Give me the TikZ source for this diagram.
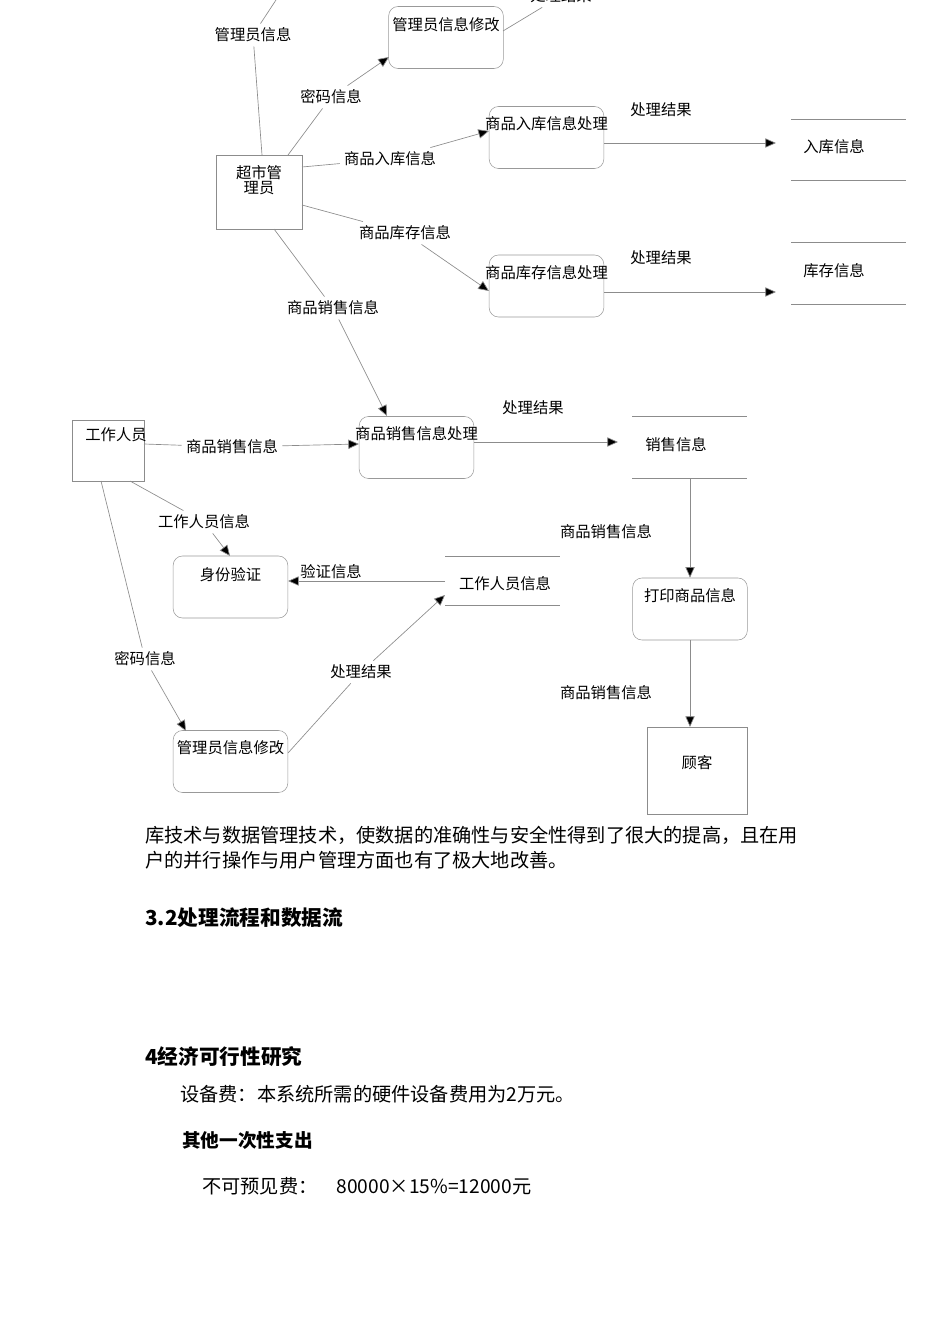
\documentclass[tikz,border=0pt]{standalone}
\usepackage{fontspec}
\setmainfont{Noto Sans CJK SC}
\usetikzlibrary{arrows.meta}
\begin{document}
\begin{tikzpicture}[x=0.75pt,y=-0.75pt,
  ln/.style={draw=black!45,line width=0.5pt},
  ar/.style={ln,-{Triangle[length=8pt,width=7pt,fill=black]}},
  proc/.style={draw=black!40,rounded corners=7pt,minimum width=86pt,minimum height=46.5pt,inner sep=0},
  ent/.style={draw=black!45,inner sep=0},
  lbl/.style={font=\fontsize{11.5}{13}\selectfont,inner sep=3pt},
  body/.style={font=\fontsize{14.4}{16}\selectfont,anchor=west,inner sep=0},
  head/.style={font=\fontsize{15.5}{17}\selectfont\bfseries,anchor=west,inner sep=0}]
\useasboundingbox (0,0) rectangle (950,1344);
% entities
\node[ent,minimum width=64.5pt,minimum height=55.5pt] (adm) at (259,192) {};
\node[lbl,align=center] (admt) at (259,180) {超市管\\[-2pt]理员};
\node[ent,minimum width=54pt,minimum height=45.75pt] (wk) at (108,450.5) {};
\node[lbl] (wkt) at (116,435) {工作人员};
\node[ent,minimum width=75pt,minimum height=65.25pt] (cu) at (697,770.5) {};
\node[lbl] (cut) at (697,763) {顾客};
% processes
\node[proc] (pm1) at (446,37.5) {}; \node[lbl] (pm1t) at (446,25) {管理员信息修改};
\node[proc] (pin) at (546.5,137.5) {}; \node[lbl] (pint) at (546.5,124) {商品入库信息处理};
\node[proc] (pst) at (546.5,286) {}; \node[lbl] (pstt) at (546.5,273) {商品库存信息处理};
\node[proc] (psa) at (416.5,447.5) {}; \node[lbl] (psat) at (416.5,434) {商品销售信息处理};
\node[proc] (pid) at (230.5,587) {}; \node[lbl] (pidt) at (230.5,575) {身份验证};
\node[proc] (pm2) at (230.5,761.5) {}; \node[lbl] (pm2t) at (230.5,748) {管理员信息修改};
\node[proc] (ppr) at (690,609) {}; \node[lbl] (pprt) at (690,596) {打印商品信息};
% stores
\foreach \n/\xa/\ya/\yb in {sin/791/119/180, sst/791/242/304, ssa/632/416/478, swk/445/556/605}{
  \draw[ln] (\xa,\ya) -- ++(115,0) (\xa,\yb) -- ++(115,0);
  \coordinate (\n) at (\xa+57,{(\ya+\yb)/2});
}
\node[lbl] (sint) at (834,147) {入库信息};
\node[lbl] (sstt) at (834,271) {库存信息};
\node[lbl] (ssat) at (676,445) {销售信息};
\node[lbl] (swkt) at (505,584) {工作人员信息};
% labels
\node[lbl] (l1) at (253,35) {管理员信息};
\node[lbl] (l2) at (331,97) {密码信息};
\node[lbl] (l3) at (390,159) {商品入库信息};
\node[lbl] (l4) at (405,233) {商品库存信息};
\node[lbl] (l5) at (333,308) {商品销售信息};
\node[lbl] (l6) at (661,110) {处理结果};
\node[lbl] (l7) at (661,258) {处理结果};
\node[lbl] (l8) at (533,408) {处理结果};
\node[lbl] (l9) at (232,447) {商品销售信息};
\node[lbl] (l10) at (204,522) {工作人员信息};
\node[lbl] (l11) at (331,572) {验证信息};
\node[lbl] (l12) at (361,672) {处理结果};
\node[lbl] (l13) at (145,659) {密码信息};
\node[lbl] (l14) at (606,532) {商品销售信息};
\node[lbl] (l15) at (606,693) {商品销售信息};
\node[lbl] (l16) at (561,-4) {处理结果};
% connectors
\coordinate (topend) at (276,0);
\draw[ln] (262,155) -- (l1);
\draw[ln] (l1) -- (topend);
\draw[ln] (288,155) -- (l2);
\draw[ar] (l2) -- (389,57);
\draw[ln] (503,31) -- (l16);
\draw[ln] (302,167) -- (l3);
\draw[ar] (l3) -- (489,131);
\draw[ln] (302,205) -- (l4);
\draw[ar] (l4) -- (489,291);
\draw[ln] (274,229) -- (l5);
\draw[ar] (l5) -- (387,416);
\coordinate (a1) at (776,143); \draw[ar] (604,143) -- (a1);
\coordinate (a2) at (776,292); \draw[ar] (604,292) -- (a2);
\coordinate (a3) at (618,442); \draw[ar] (474,442) -- (a3);
\draw[ln] (144,444) -- (l9);
\draw[ar] (l9) -- (359,444);
\draw[ln] (130,481) -- (l10);
\draw[ar] (l10) -- (230,556);
\draw[ar] (445,581) -- (288,581);
\draw[ln] (288,753) -- (l12);
\draw[ar] (l12) -- (445,595);
\draw[ln] (101,481) -- (l13);
\draw[ar] (l13) -- (186,731);
\draw[ar] (690,478) -- (ppr.north);
\draw[ar] (ppr.south) -- (690,727);
% body text
\node[body] (b1) at (145,835) {库技术与数据管理技术，使数据的准确性与安全性得到了很大的提高，且在用};
\node[body] (b2) at (145,860) {户的并行操作与用户管理方面也有了极大地改善。};
\node[head] (h1) at (145,918) {3.2处理流程和数据流};
\node[head] (h2) at (145,1057) {4经济可行性研究};
\node[body] (b3) at (180,1094) {设备费：本系统所需的硬件设备费用为2万元。};
\node[head,font=\fontsize{14}{16}\selectfont\bfseries] (h3) at (182,1140) {其他一次性支出};
\node[body] (b4) at (202,1186) {不可预见费：\quad 80000×15\%=12000元};
\end{tikzpicture}
\end{document}
